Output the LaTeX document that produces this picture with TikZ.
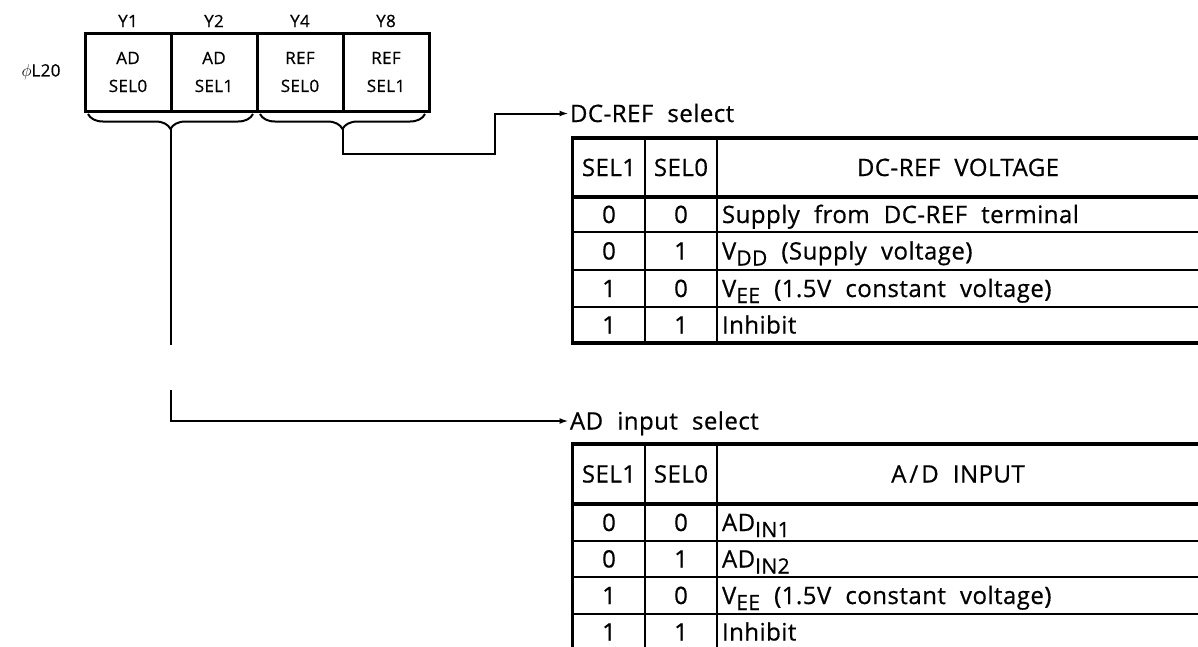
\documentclass[tikz,border=0pt]{standalone}
\usepackage{fontspec}
\setmainfont{Open Sans}[WordSpace=2.1, LetterSpace=2, FakeBold=0.6]
\usetikzlibrary{decorations.pathreplacing,arrows.meta}
\newcommand\lowsub[1]{\raisebox{-6pt}{\fontsize{21}{21}\selectfont #1}}
\begin{document}
\begin{tikzpicture}[x=1pt,y=-1pt,
  every node/.style={inner sep=0pt, outer sep=0pt},
  lbl/.style={font=\fontsize{24}{24}\selectfont, text height=17pt, text depth=0pt, anchor=west},
  tcell/.style={font=\fontsize{24}{24}\selectfont, text height=17pt, text depth=0pt, anchor=center},
  tdesc/.style={font=\fontsize{24}{24}\selectfont, text height=17pt, text depth=0pt, anchor=west},
  small/.style={font=\fontsize{17}{17}\selectfont},
  regcell/.style={draw, line width=3pt, minimum width=86pt, minimum height=78pt, align=center, font=\fontsize{17}{28}\selectfont},
  thickline/.style={line width=3.5pt},
  thinline/.style={line width=2pt},
  conn/.style={line width=2pt},
  arr/.style={conn, -{Latex[length=9pt,width=6pt]}, shorten >=1.5pt},
  brc/.style={line width=2pt, decorate, decoration={brace, mirror, amplitude=15pt}},
]
\clip (0,0) rectangle (1198,646);
\fill[white] (0,0) rectangle (1198,646);

% register
\node[small] (phi) at (41,72) {$\phi$L20};
\node[regcell] (c1) at (128,72) {AD\\SEL0};
\node[regcell] (c2) at (214,72) {AD\\SEL1};
\node[regcell] (c3) at (300,72) {REF\\SEL0};
\node[regcell] (c4) at (386,72) {REF\\SEL1};
\node[small] (y1) at (128,21) {Y1};
\node[small] (y2) at (214,21) {Y2};
\node[small] (y4) at (300,21) {Y4};
\node[small] (y8) at (386,21) {Y8};

% braces
\draw[brc] (88,114) -- (253,114);
\draw[brc] (260,114) -- (425,114);
\coordinate (b1) at (170.5,129);
\coordinate (b2) at (342.5,129);

% labels
\node[lbl] (lblref) at (570,113.5) {DC-REF select};
\node[lbl] (lblad) at (570,421) {AD input select};

% connectors
\coordinate (k1) at (495,154);
\draw[arr] (b2) |- (k1) |- (lblref.west);
\coordinate (g1) at (170.5,345);
\coordinate (g2) at (170.5,390);
\draw[conn] (b1) -- (g1);
\draw[arr] (g2) |- (lblad.west);

% DC-REF table
\draw[thinline] (572.5,232) -- (1210,232);
\draw[thinline] (572.5,270) -- (1210,270);
\draw[thinline] (572.5,307) -- (1210,307);
\draw[thinline] (645,138) -- (645,343);
\draw[thinline] (717,138) -- (717,343);
\draw[thickline] (1210,138) -- (572.5,138) -- (572.5,343) -- (1210,343);
\draw[thickline] (572.5,197) -- (1210,197);
\node[tcell] (rh1) at (609,167.5) {SEL1};
\node[tcell] (rh2) at (681,167.5) {SEL0};
\node[tcell] (rh3) at (958,167.5) {DC-REF VOLTAGE};
\node[tcell] (ra1) at (609,214.5) {0};
\node[tcell] (ra2) at (681,214.5) {0};
\node[tdesc] (ra3) at (722,214.5) {Supply from DC-REF terminal};
\node[tcell] (rb1) at (609,251) {0};
\node[tcell] (rb2) at (681,251) {1};
\node[tdesc] (rb3) at (722,251) {V\lowsub{DD} (Supply voltage)};
\node[tcell] (rc1) at (609,288.5) {1};
\node[tcell] (rc2) at (681,288.5) {0};
\node[tdesc] (rc3) at (722,288.5) {V\lowsub{EE} (1.5V constant voltage)};
\node[tcell] (rd1) at (609,325) {1};
\node[tcell] (rd2) at (681,325) {1};
\node[tdesc] (rd3) at (722,325) {Inhibit};

% AD table
\draw[thinline] (572.5,541) -- (1210,541);
\draw[thinline] (572.5,577) -- (1210,577);
\draw[thinline] (572.5,614) -- (1210,614);
\draw[thinline] (645,444) -- (645,660);
\draw[thinline] (717,444) -- (717,660);
\draw[thickline] (1210,444) -- (572.5,444) -- (572.5,660);
\draw[thickline] (572.5,504) -- (1210,504);
\node[tcell] (ah1) at (609,474) {SEL1};
\node[tcell] (ah2) at (681,474) {SEL0};
\node[tcell] (ah3) at (958,474) {A\kern3pt/\kern3pt D INPUT};
\node[tcell] (aa1) at (609,522.5) {0};
\node[tcell] (aa2) at (681,522.5) {0};
\node[tdesc] (aa3) at (722,522.5) {AD\lowsub{IN1}};
\node[tcell] (ab1) at (609,559) {0};
\node[tcell] (ab2) at (681,559) {1};
\node[tdesc] (ab3) at (722,559) {AD\lowsub{IN2}};
\node[tcell] (ac1) at (609,595.5) {1};
\node[tcell] (ac2) at (681,595.5) {0};
\node[tdesc] (ac3) at (722,595.5) {V\lowsub{EE} (1.5V constant voltage)};
\node[tcell] (ad1) at (609,632) {1};
\node[tcell] (ad2) at (681,632) {1};
\node[tdesc] (ad3) at (722,632) {Inhibit};
\end{tikzpicture}
\end{document}
